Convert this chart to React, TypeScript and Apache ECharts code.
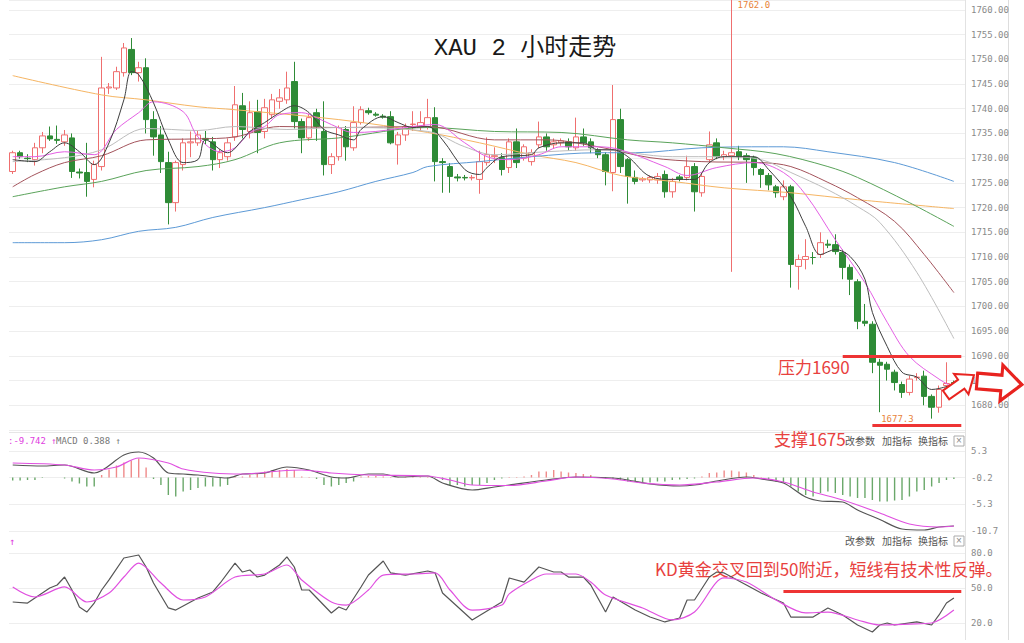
import React, { useEffect, useRef } from 'react';
import * as echarts from 'echarts';

// ---------- candle data (index 0..127) ----------
const opens = [1727.3,1731.1,1730.0,1729.7,1732.1,1734.5,1733.8,1733.3,1734.1,1727.2,1727.1,1725.7,1728.3,1744.2,1744.2,1747.3,1752.0,1747.3,1748.3,1737.8,1734.7,1729.1,1721.0,1728.7,1733.1,1733.1,1734.0,1733.3,1729.7,1730.3,1734.3,1740.6,1735.4,1739.4,1735.4,1738.8,1741.5,1741.8,1745.5,1737.4,1734.1,1739.2,1735.4,1728.7,1730.3,1735.8,1732.1,1737.2,1739.6,1738.9,1738.5,1738.4,1732.7,1734.7,1736.8,1736.4,1736.4,1738.2,1729.3,1728.3,1726.2,1726.1,1726.0,1725.7,1729.1,1730.3,1730.1,1728.1,1733.3,1730.0,1729.3,1732.7,1734.3,1732.7,1733.1,1733.3,1732.1,1734.3,1733.3,1731.7,1730.7,1727.1,1737.8,1729.7,1726.1,1725.6,1725.6,1725.6,1726.7,1723.2,1726.2,1726.1,1728.3,1723.0,1729.7,1733.1,1730.3,1730.5,1731.3,1730.5,1730.1,1727.7,1726.5,1724.2,1722.2,1724.2,1708.1,1709.5,1709.9,1710.5,1712.6,1712.5,1710.9,1707.9,1705.0,1697.0,1696.4,1688.7,1688.3,1686.7,1684.2,1682.6,1685.6,1685.9,1681.8,1679.6,1684.0,1684.6];
const closes = [1731.1,1730.3,1729.9,1732.1,1734.5,1733.9,1733.6,1734.7,1727.3,1727.0,1725.3,1728.7,1744.2,1744.4,1747.5,1752.3,1747.3,1748.3,1737.8,1734.3,1729.3,1721.0,1729.1,1733.1,1733.3,1734.7,1733.8,1729.7,1731.1,1733.1,1740.8,1735.8,1739.2,1735.2,1740.2,1741.8,1742.2,1744.2,1737.4,1734.1,1738.2,1736.4,1728.7,1730.3,1736.2,1732.3,1737.2,1739.8,1739.2,1738.7,1738.3,1733.1,1734.7,1736.4,1736.9,1737.2,1738.2,1729.3,1729.1,1726.3,1726.0,1726.0,1726.1,1729.3,1730.7,1730.5,1727.7,1733.3,1729.1,1732.3,1731.1,1734.3,1732.3,1733.3,1733.5,1732.3,1734.3,1733.1,1732.1,1730.7,1727.3,1737.8,1728.3,1726.3,1725.3,1725.8,1726.1,1726.3,1723.2,1725.3,1725.8,1728.3,1723.2,1726.3,1732.7,1730.3,1730.7,1731.1,1730.3,1729.7,1728.1,1726.7,1724.6,1723.0,1724.2,1708.5,1709.5,1710.1,1709.9,1712.9,1712.4,1711.1,1707.9,1705.5,1697.0,1696.6,1688.7,1688.1,1687.3,1684.6,1682.6,1685.3,1685.7,1681.8,1679.6,1683.2,1684.4,1684.2];
const lows = [1726.8,1729.9,1729.2,1728.5,1731.0,1733.5,1732.9,1732.5,1726.0,1725.9,1722.2,1724.1,1727.5,1743.0,1743.8,1746.5,1746.8,1745.5,1735.0,1730.5,1727.0,1716.6,1719.2,1727.5,1730.2,1732.5,1732.8,1727.5,1728.0,1729.5,1733.5,1734.0,1734.0,1731.0,1734.0,1738.0,1740.0,1741.0,1736.0,1731.0,1733.5,1733.5,1726.5,1726.8,1729.5,1729.5,1731.5,1736.8,1738.8,1738.4,1738.0,1732.8,1728.7,1733.5,1735.5,1735.5,1735.8,1725.3,1723.0,1723.0,1725.3,1725.5,1725.5,1722.8,1728.5,1729.0,1726.5,1727.0,1728.0,1729.5,1728.5,1732.0,1731.5,1732.0,1732.5,1731.5,1731.5,1732.5,1731.0,1730.0,1724.5,1723.3,1727.0,1720.8,1724.7,1725.2,1725.0,1724.8,1722.0,1722.0,1725.3,1725.5,1719.2,1722.2,1729.0,1729.8,1729.6,1707.0,1729.6,1725.0,1726.5,1724.0,1723.5,1722.0,1721.5,1703.8,1703.4,1707.5,1708.5,1709.8,1711.8,1710.5,1705.5,1702.3,1695.4,1696.0,1686.5,1678.6,1685.0,1683.0,1681.5,1682.0,1685.0,1680.0,1677.3,1678.5,1683.0,1683.8];
const highs = [1731.5,1731.5,1730.8,1733.1,1735.3,1736.4,1736.6,1735.7,1735.0,1727.9,1733.1,1729.5,1750.5,1745.2,1748.5,1753.3,1754.3,1749.5,1750.2,1739.5,1736.5,1731.3,1729.5,1734.0,1735.4,1735.5,1735.5,1734.3,1731.8,1734.0,1744.6,1743.2,1741.5,1741.8,1742.0,1743.0,1744.0,1747.5,1749.5,1738.0,1739.0,1740.0,1741.5,1731.0,1736.6,1736.5,1740.5,1740.5,1740.2,1739.3,1738.9,1739.5,1735.3,1737.0,1739.5,1739.5,1742.0,1740.3,1730.0,1729.0,1726.8,1726.6,1726.6,1731.5,1734.2,1732.2,1731.0,1734.0,1736.0,1732.8,1731.8,1737.4,1735.0,1734.0,1734.0,1734.0,1738.2,1736.0,1734.0,1732.0,1731.2,1744.8,1740.0,1730.0,1727.5,1726.2,1726.5,1727.0,1727.5,1726.0,1726.6,1730.5,1729.0,1727.0,1735.4,1734.0,1731.5,1762.0,1732.5,1731.0,1730.5,1728.0,1727.0,1724.6,1725.5,1724.6,1710.5,1713.6,1711.0,1715.0,1713.5,1714.6,1711.5,1708.5,1705.5,1700.5,1697.0,1689.4,1688.8,1687.2,1684.8,1686.0,1686.5,1687.0,1682.2,1684.0,1688.7,1685.0];

// ---------- moving averages, read as [candle index, price] ----------
const ma5 = [[0,1729.7],[3,1729.3],[5,1731.3],[7,1733.1],[9,1731.3],[11,1728.7],[13,1733.1],[15,1741.8],[16,1747.5],[17,1746.9],[19,1741.2],[21,1733.7],[23,1729.1],[25,1729.7],[26,1733.7],[29,1731.1],[31,1733.7],[32,1735.4],[34,1737.2],[36,1739.2],[38,1740.6],[40,1739.2],[42,1735.8],[44,1734.7],[46,1733.7],[47,1735.8],[50,1738.4],[52,1737.2],[54,1736.2],[56,1736.4],[58,1733.7],[61,1727.7],[63,1726.7],[64,1728.1],[66,1730.3],[70,1730.7],[71,1732.1],[74,1733.1],[77,1733.1],[79,1731.7],[81,1731.7],[83,1730.3],[86,1726.3],[89,1725.7],[92,1725.7],[94,1729.1],[96,1730.3],[100,1730.3],[102,1727.7],[105,1722.2],[107,1716.2],[109,1710.5],[111,1711.5],[113,1710.1],[115,1705.5],[116,1698.8],[118,1691.9],[120,1686.7],[122,1685.7],[124,1683.2],[125,1683.4],[127,1684.2]];
const ma10 = [[0,1730.3],[3,1730.3],[7,1731.3],[11,1730.7],[14,1735.8],[17,1739.2],[19,1741.4],[23,1739.4],[25,1734.3],[28,1731.3],[30,1732.1],[32,1735.2],[34,1736.4],[36,1738.8],[39,1739.2],[41,1738.2],[43,1736.8],[46,1735.2],[49,1735.4],[54,1736.4],[57,1736.8],[61,1733.1],[64,1730.3],[67,1729.7],[71,1730.7],[74,1732.3],[79,1732.3],[82,1731.7],[88,1728.3],[91,1726.5],[95,1728.1],[100,1729.1],[104,1727.1],[107,1722.6],[111,1713.5],[115,1704.8],[118,1696.8],[121,1689.9],[125,1685.3],[127,1683.6]];
const ma20 = [[0,1729.3],[7,1730.1],[12,1731.7],[18,1736.0],[25,1735.6],[30,1736.4],[37,1735.8],[44,1736.2],[56,1735.4],[61,1732.3],[65,1730.7],[72,1731.3],[79,1731.7],[89,1730.3],[96,1730.3],[101,1729.7],[105,1727.1],[110,1723.6],[114,1720.2],[117,1717.0],[122,1706.9],[127,1693.5]];
const ma30 = [[0,1724.2],[3,1726.7],[7,1729.1],[12,1730.5],[18,1733.7],[25,1733.9],[30,1734.3],[36,1736.4],[44,1736.2],[56,1736.4],[65,1733.7],[72,1733.7],[79,1732.3],[86,1730.1],[93,1729.3],[101,1729.1],[105,1728.3],[110,1725.1],[114,1722.0],[119,1717.2],[123,1710.5],[127,1702.8]];
const ma60 = [[0,1722.2],[7,1724.2],[12,1725.3],[18,1727.5],[25,1728.3],[30,1729.7],[36,1733.1],[44,1734.1],[56,1736.2],[65,1735.4],[74,1735.2],[83,1733.7],[89,1733.1],[96,1732.1],[103,1730.9],[110,1728.3],[114,1726.1],[121,1721.0],[127,1716.2]];
const ma120 = [[0,1712.9],[7,1712.9],[12,1713.5],[17,1715.2],[22,1716.0],[27,1718.0],[34,1720.0],[39,1721.6],[44,1723.2],[49,1725.3],[54,1727.1],[56,1728.3],[63,1729.3],[70,1730.3],[79,1731.1],[84,1731.1],[93,1732.1],[102,1732.3],[104,1732.3],[110,1731.3],[119,1729.1],[127,1725.3]];
const ma250 = [[0,1746.7],[12,1742.8],[18,1741.8],[25,1740.4],[30,1739.8],[44,1737.8],[56,1735.2],[63,1733.1],[70,1730.7],[76,1729.1],[82,1726.5],[89,1725.3],[96,1724.0],[105,1723.0],[114,1721.6],[127,1719.8]];

// ---------- MACD ----------
const macdHist = [-0.6,-0.6,-0.5,-0.5,-0.1,0,0,-0.2,-0.8,-1.2,-1.8,-1.8,0.5,1.6,2.4,3.0,3.4,3.8,2.0,-0.3,-1.5,-3.5,-3.8,-2.8,-2.5,-2.1,-1.8,-1.8,-1.8,-1.5,0.2,0.2,0.5,0.9,1.2,1.5,1.5,1.7,1.5,0.2,0.1,-0.3,-1.5,-1.8,-1.5,-1.1,-0.8,0.2,0.3,0.3,0.2,0.1,0.1,0.1,0.1,0.1,0.1,-0.1,-0.5,-1.5,-1.5,-1.8,-1.5,-1.5,-1.1,-0.5,-0.2,0.1,0.1,0.2,0.5,1.2,1.2,1.5,1.2,1.0,0.9,0.7,0.5,0.1,-0.2,-0.3,-0.5,-0.8,-0.8,-1.0,-1.0,-0.8,-0.8,-0.5,-0.4,-0.3,-0.2,0.2,0.9,1.0,1.4,1.4,1.2,1.0,0.5,0.1,-0.5,-0.8,-1.1,-1.8,-2.8,-3.5,-3.8,-3.1,-2.8,-3.1,-3.5,-3.8,-4.1,-4.1,-4.5,-4.8,-4.8,-4.6,-4.5,-3.8,-2.8,-2.5,-1.8,-1.1,-0.5,-0.3];
const macdDif = [[0,2.5],[4,2.3],[7,2.5],[11,0.9],[15,4.5],[17,5.1],[19,3.9],[21,0.9],[23,0.7],[25,0.5],[29,-0.1],[31,0.7],[34,0.9],[37,2.1],[40,1.5],[43,0.1],[45,-0.1],[48,0.7],[50,0.7],[52,0.1],[56,0.3],[58,-1.1],[62,-2.5],[65,-1.9],[67,-1.5],[72,-0.5],[76,0.1],[81,-0.1],[83,-0.5],[86,-1.3],[90,-1.7],[92,-1.5],[95,-0.7],[99,0.1],[101,-0.3],[104,-1.1],[107,-3.9],[109,-4.7],[112,-4.9],[114,-6.5],[117,-8.4],[120,-10.3],[123,-10.5],[125,-9.9],[127,-9.7]];
const macdDea = [[0,2.9],[7,2.5],[11,1.5],[14,2.1],[17,3.9],[21,2.9],[23,1.7],[27,0.9],[31,0.7],[36,1.3],[39,1.5],[43,0.9],[48,0.5],[56,0.3],[59,-0.5],[62,-1.5],[67,-1.6],[72,-0.7],[76,0.1],[81,-0.3],[85,-1.1],[90,-1.5],[95,-0.9],[100,-0.1],[104,-0.9],[108,-2.9],[112,-4.5],[117,-7.1],[121,-9.3],[125,-9.9],[127,-9.7]];
const macdTickLabels = ['5.3', '-0.2', '-5.3', '-10.7'];

// ---------- KD ----------
const kLine = [[0,38.0],[2,37.1],[4,45.7],[5,50],[6,52.6],[7,59.4],[8,48.3],[9,33.7],[10,29.4],[11,37.1],[12,48.3],[13,56.9],[15,75.7],[17,78.3],[18,68],[19,54.3],[21,32.9],[22,31.1],[25,41.4],[27,46.6],[28,54.3],[30,71.4],[31,63.7],[32,65.4],[33,59.4],[34,61.1],[36,69.7],[37,76.6],[38,68],[39,48.3],[40,48.3],[43,28.6],[44,33.7],[45,31.1],[47,50.9],[48,61.1],[50,73.1],[51,62.9],[53,61.1],[56,64.6],[57,62.9],[58,45.7],[62,22.6],[66,38],[67,58.6],[69,55.1],[71,68],[73,63.7],[74,63.7],[75,59.4],[77,59.4],[78,52.6],[80,29.4],[81,42.3],[84,31.1],[86,25.1],[88,20.9],[90,24.3],[91,39.7],[92,39.7],[94,59.4],[95,63.7],[96,62.9],[99,52.6],[101,45.7],[104,37.1],[105,25.1],[108,25.1],[110,32.9],[112,26.9],[114,18.3],[116,12.3],[117,18.3],[118,20],[119,18.3],[122,20.9],[124,18.3],[125,26.9],[126,37.1],[127,41.4]];
const dLine = [[0,50.9],[3,42.3],[7,50.9],[10,38],[13,45.7],[15,59.4],[17,71.4],[20,54.3],[23,39.7],[26,42.3],[30,59.4],[34,62],[37,69.7],[39,56.9],[43,38],[45,35.4],[48,48.3],[50,61.1],[54,62],[57,62.9],[59,48.3],[62,31.1],[66,35.4],[67,45],[70,56.9],[72,62],[76,62],[78,55.1],[80,44],[85,32.9],[89,22.6],[92,29.4],[96,58.6],[99,55.1],[103,39.7],[107,28.6],[110,29.4],[114,22.6],[117,18.3],[121,19.1],[124,20],[127,31.1]];

const slotCount = 129;

export default function App() {
  const ref = useRef<HTMLDivElement>(null);
  useEffect(() => {
    if (!ref.current) return;
    const chart = echarts.init(ref.current, null, { renderer: 'svg' });
    const cats = Array.from({ length: slotCount }, (_, i) => String(i));
    const candleData = opens.map((o, i) => [o, closes[i], lows[i], highs[i]]);
    const RED = '#ee3434';
    const maLine = (name: string, data: number[][], color: string) => ({
      name, type: 'line', xAxisIndex: 0, yAxisIndex: 0, data, showSymbol: false, smooth: 0.35,
      lineStyle: { color, width: 1 }, silent: true,
    });
    const xAx = (gi: number) => ({
      type: 'category', gridIndex: gi, data: cats, boundaryGap: true,
      axisLine: { show: false }, axisTick: { show: false }, axisLabel: { show: false }, splitLine: { show: false },
    });
    const axisLabelStyle = { color: '#8a8a8a', fontSize: 9, fontFamily: 'DejaVu Sans Mono', margin: 6 };
    const splitLine = { show: true, lineStyle: { color: '#eeeeee', width: 1 } };
    const headerFont = 'DejaVu Sans Mono';
    const btnTexts = (y: number) => [
      { type: 'text', left: 845, top: y - 6, style: { text: '改参数', fill: '#555', fontSize: 10, fontFamily: 'Noto Sans CJK SC' } },
      { type: 'text', left: 882, top: y - 6, style: { text: '加指标', fill: '#555', fontSize: 10, fontFamily: 'Noto Sans CJK SC' } },
      { type: 'text', left: 918, top: y - 6, style: { text: '换指标', fill: '#555', fontSize: 10, fontFamily: 'Noto Sans CJK SC' } },
      { type: 'rect', shape: { x: 954, y: y - 5, width: 10, height: 10 }, style: { fill: '#fff', stroke: '#aaa', lineWidth: 1 } },
      { type: 'text', left: 956, top: y - 6, style: { text: '×', fill: '#888', fontSize: 10 } },
    ];
    const arrowPts = [[0, -7], [24, -7], [24, -16], [44, 0], [24, 16], [24, 7], [0, 7]];
    const option: any = {
      animation: false,
      backgroundColor: '#ffffff',
      grid: [
        { left: 9, right: 59, top: 0, height: 430 },
        { left: 9, right: 59, top: 451, height: 80 },
        { left: 9, right: 59, top: 553, height: 70 },
      ],
      xAxis: [xAx(0), xAx(1), xAx(2)],
      yAxis: [
        {
          type: 'value', gridIndex: 0, position: 'right', min: 1675, max: 1762, interval: 5,
          axisLine: { show: false }, axisTick: { show: false },
          axisLabel: { ...axisLabelStyle, showMinLabel: false, showMaxLabel: false, formatter: (v: number) => v.toFixed(2) },
          splitLine,
        },
        {
          type: 'value', gridIndex: 1, position: 'right', min: -10.7, max: 5.3, interval: 16 / 3,
          axisLine: { show: false }, axisTick: { show: false },
          axisLabel: {
            ...axisLabelStyle,
            formatter: (v: number) => {
              let best = 0; let bd = Infinity;
              macdTickLabels.forEach((t, k) => { const d = Math.abs(parseFloat(t) - v); if (d < bd) { bd = d; best = k; } });
              return macdTickLabels[best];
            },
          },
          splitLine,
        },
        {
          type: 'value', gridIndex: 2, position: 'right', min: 20, max: 80, interval: 30,
          axisLine: { show: false }, axisTick: { show: false },
          axisLabel: { ...axisLabelStyle, formatter: (v: number) => v.toFixed(1) },
          splitLine,
        },
      ],
      series: [
        {
          name: 'XAU', type: 'candlestick', xAxisIndex: 0, yAxisIndex: 0, data: candleData, barWidth: 6,
          itemStyle: { color: '#ffffff', color0: '#2e8b36', borderColor: '#ef6f6f', borderColor0: '#2e8b36', borderWidth: 1 },
          markLine: {
            silent: true, symbol: ['none', 'none'], label: { show: false },
            lineStyle: { color: RED, width: 3, type: 'solid' },
            data: [
              [{ coord: ['112', 1690] }, { coord: ['128', 1690] }],
              [{ coord: ['116', 1676] }, { coord: ['128', 1676] }],
            ],
          },
          markPoint: {
            silent: true, symbol: 'circle', symbolSize: 0,
            data: [
              { coord: ['97', 1762], label: { show: true, formatter: '1762.0', position: 'right', distance: 6, offset: [0, 5], color: '#e8843a', fontSize: 9, fontFamily: headerFont } },
              { coord: ['124', 1677.3], label: { show: true, formatter: '1677.3', position: 'left', distance: 18, color: '#e8843a', fontSize: 9, fontFamily: headerFont } },
            ],
          },
        },
        maLine('MA250', ma250, '#f6b563'),
        maLine('MA120', ma120, '#5d9ad6'),
        maLine('MA60', ma60, '#5aa35a'),
        maLine('MA30', ma30, '#a4545c'),
        maLine('MA20', ma20, '#bdbdbd'),
        maLine('MA10', ma10, '#e45fe4'),
        maLine('MA5', ma5, '#3e3e3e'),
        {
          name: 'MACD', type: 'bar', xAxisIndex: 1, yAxisIndex: 1, data: macdHist, barWidth: 1.4, silent: true,
          itemStyle: { color: (p: any) => (p.value >= 0 ? '#ef8a8a' : '#6aa86a') },
        },
        { name: 'DIF', type: 'line', xAxisIndex: 1, yAxisIndex: 1, data: macdDif, showSymbol: false, smooth: 0.3, lineStyle: { color: '#555555', width: 1.2 }, silent: true },
        { name: 'DEA', type: 'line', xAxisIndex: 1, yAxisIndex: 1, data: macdDea, showSymbol: false, smooth: 0.3, lineStyle: { color: '#e050e0', width: 1.2 }, silent: true },
        {
          name: 'K', type: 'line', xAxisIndex: 2, yAxisIndex: 2, data: kLine, showSymbol: false, clip: false, lineStyle: { color: '#555555', width: 1.2 }, silent: true,
          markLine: {
            silent: true, symbol: ['none', 'none'], label: { show: false },
            lineStyle: { color: RED, width: 3, type: 'solid' },
            data: [[{ coord: ['104', 47.4] }, { coord: ['128', 47.4] }]],
          },
        },
        { name: 'D', type: 'line', xAxisIndex: 2, yAxisIndex: 2, data: dLine, showSymbol: false, smooth: 0.3, clip: false, lineStyle: { color: '#e050e0', width: 1.2 }, silent: true },
      ],
      graphic: [
        { type: 'line', shape: { x1: 965.5, y1: 0, x2: 965.5, y2: 640 }, style: { stroke: '#e2e2e2', lineWidth: 1 }, silent: true },
        { type: 'line', shape: { x1: 1008.5, y1: 0, x2: 1008.5, y2: 640 }, style: { stroke: '#dddddd', lineWidth: 1 }, silent: true },
        { type: 'line', shape: { x1: 9, y1: 432.5, x2: 965, y2: 432.5 }, style: { stroke: '#e6e6e6', lineWidth: 1 }, silent: true },
        { type: 'text', x: 525, y: 48, style: { text: 'XAU 2 小时走势', fill: '#1a1a1a', fontSize: 24, fontFamily: '"Liberation Mono", "Noto Sans CJK SC"', textAlign: 'center', textVerticalAlign: 'middle' } },
        { type: 'text', left: 778, top: 358, style: { text: '压力1690', fill: '#e8413e', fontSize: 17, fontFamily: 'Noto Sans CJK SC' } },
        { type: 'text', left: 774, top: 430, style: { text: '支撑1675', fill: '#e8413e', fontSize: 17, fontFamily: 'Noto Sans CJK SC' } },
        { type: 'text', left: 655, top: 560, style: { text: 'KD黄金交叉回到50附近，短线有技术性反弹。', fill: '#e8413e', fontSize: 17, fontFamily: 'Noto Sans CJK SC' } },
        { type: 'text', left: 8, top: 436, style: { text: ':-9.742 ↑', fill: '#e040e0', fontSize: 9, fontFamily: headerFont } },
        { type: 'text', left: 56, top: 436, style: { text: 'MACD 0.388 ↑', fill: '#777', fontSize: 9, fontFamily: headerFont } },
        { type: 'text', left: 9, top: 536, style: { text: '↑', fill: '#e040e0', fontSize: 10, fontFamily: headerFont } },
        ...btnTexts(441),
        ...btnTexts(541),
        { type: 'polygon', x: 946, y: 395, rotation: 0.62, scaleX: 0.78, scaleY: 0.78, z: 100, shape: { points: arrowPts }, style: { fill: '#ffffff', stroke: '#e8231f', lineWidth: 2.6 }, silent: true },
        { type: 'polygon', x: 977, y: 381, rotation: -0.08, scaleX: 1.02, scaleY: 1.12, z: 100, shape: { points: arrowPts }, style: { fill: '#ffffff', stroke: '#e8231f', lineWidth: 3 }, silent: true },
      ],
    };
    chart.setOption(option);
    return () => chart.dispose();
  }, []);
  return <div ref={ref} style={{ position: 'fixed', left: 0, top: 0, width: 1024, height: 643, background: '#fff' }} />;
}
